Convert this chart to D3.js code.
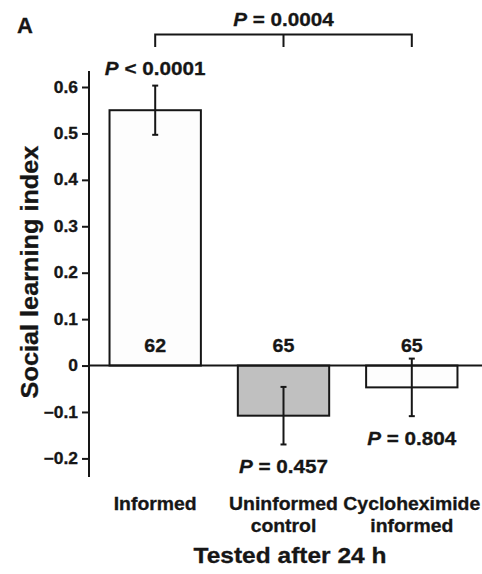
<!DOCTYPE html>
<html>
<head>
<meta charset="utf-8">
<script src="https://cdn.jsdelivr.net/npm/d3@7"></script>
<style>
  body { margin: 0; background: #fff; }
  text { font-family: "Liberation Sans", Arial, sans-serif; font-weight: bold; fill: #161616; stroke: #161616; stroke-width: 0.3px; }
</style>
</head>
<body>
<svg id="chart" width="482" height="574"></svg>
<script>
// data
var categories = ["Informed", "Uninformed control", "Cycloheximide informed"];
var catLines = [["Informed"], ["Uninformed", "control"], ["Cycloheximide", "informed"]];
var means = [0.55, -0.108, -0.047];
var errors = [0.053, 0.062, 0.062];
var nCounts = [62, 65, 65];
var pValues = ["< 0.0001", "= 0.457", "= 0.804"];
var fills = ["#fdfdfd", "#c0c0c0", "#fdfdfd"];
var yTicks = [-0.2, -0.1, 0, 0.1, 0.2, 0.3, 0.4, 0.5, 0.6];
var bracketP = "= 0.0004";

var sx = 1.09; // the original lettering is a little wider than Arial

var svg = d3.select("#chart");

function label(parent, px, py, size, rot) {
  return parent.append("text")
    .attr("transform", "translate(" + px + "," + py + ")" + (rot ? " rotate(" + rot + ")" : "") + " scale(" + sx + ",1)")
    .attr("text-anchor", "middle")
    .style("font-size", size + "px");
}

var y = d3.scaleLinear().domain([-0.2, 0.6]).range([458.4, 87]);
var x = d3.scaleBand().domain(categories).range([89, 478]).paddingInner(0.288).paddingOuter(0.16);

// y axis
var yAxis = svg.append("g")
    .attr("transform", "translate(89,0)")
    .call(d3.axisLeft(y).tickValues(yTicks).tickSize(7).tickPadding(4)
      .tickFormat(function(d){ return d === 0 ? "0" : d3.format(".1f")(d); }));
yAxis.select(".domain").remove();
yAxis.selectAll(".tick line").attr("stroke", "#161616").attr("stroke-width", 2);
yAxis.selectAll(".tick text")
    .attr("x", -11 / sx)
    .attr("transform", "scale(" + sx + ",1)")
    .style("font-size", "16px")
    .style("font-family", "Liberation Sans, Arial, sans-serif")
    .style("font-weight", "bold")
    .attr("fill", "#161616");

svg.append("line")
    .attr("x1", 89).attr("x2", 89)
    .attr("y1", 71).attr("y2", 477)
    .attr("stroke", "#161616").attr("stroke-width", 2);

// bars
svg.selectAll("rect.bar")
    .data(categories)
  .enter().append("rect")
    .attr("class", "bar")
    .attr("x", function(d){ return x(d); })
    .attr("width", x.bandwidth())
    .attr("y", function(d, i){ return y(Math.max(0, means[i])); })
    .attr("height", function(d, i){ return Math.abs(y(means[i]) - y(0)); })
    .attr("fill", function(d, i){ return fills[i]; })
    .attr("stroke", "#161616").attr("stroke-width", 2);

// zero line
svg.append("line")
    .attr("x1", 89).attr("x2", 482)
    .attr("y1", y(0)).attr("y2", y(0))
    .attr("stroke", "#161616").attr("stroke-width", 2);

// error bars
categories.forEach(function(c, i) {
  var cx = x(c) + x.bandwidth() / 2,
      hi = y(means[i] + errors[i]),
      lo = y(means[i] - errors[i]);
  var g = svg.append("g").attr("transform", "translate(" + cx + ",0)");
  g.append("line").attr("y1", hi).attr("y2", lo);
  g.append("line").attr("x1", -3).attr("x2", 3).attr("y1", hi).attr("y2", hi);
  g.append("line").attr("x1", -3).attr("x2", 3).attr("y1", lo).attr("y2", lo);
  g.selectAll("line").attr("stroke", "#161616").attr("stroke-width", 2);

  // n label
  label(svg, cx, y(0) - 14, 18).text(nCounts[i]);

  // p label
  var py = means[i] > 0 ? hi - 11 : lo + 29;
  var t = label(svg, cx, py, 19);
  t.append("tspan").style("font-style", "italic").text("P");
  t.append("tspan").text(" " + pValues[i]);

  // category label
  var cl = label(svg, cx, 510, 17.8);
  catLines[i].forEach(function(line, j) {
    cl.append("tspan").attr("x", 0).attr("dy", j === 0 ? 0 : 22).text(line);
  });
});

// bracket
var c0 = x(categories[0]) + x.bandwidth() / 2,
    c1 = x(categories[1]) + x.bandwidth() / 2,
    c2 = x(categories[2]) + x.bandwidth() / 2;
svg.append("path")
    .attr("d", "M" + c0 + ",47V34.5H" + c2 + "V47M" + c1 + ",34.5V47")
    .attr("fill", "none").attr("stroke", "#161616").attr("stroke-width", 2);
var bt = label(svg, c1, 26, 19);
bt.append("tspan").style("font-style", "italic").text("P");
bt.append("tspan").text(" " + bracketP);

// axis titles
label(svg, 290, 563, 22.5).text("Tested after 24 h");
label(svg, 38, 272, 23.2, -90).text("Social learning index");

svg.append("text")
    .attr("x", 17).attr("y", 33)
    .style("font-size", "22px")
    .text("A");
</script>
</body>
</html>
